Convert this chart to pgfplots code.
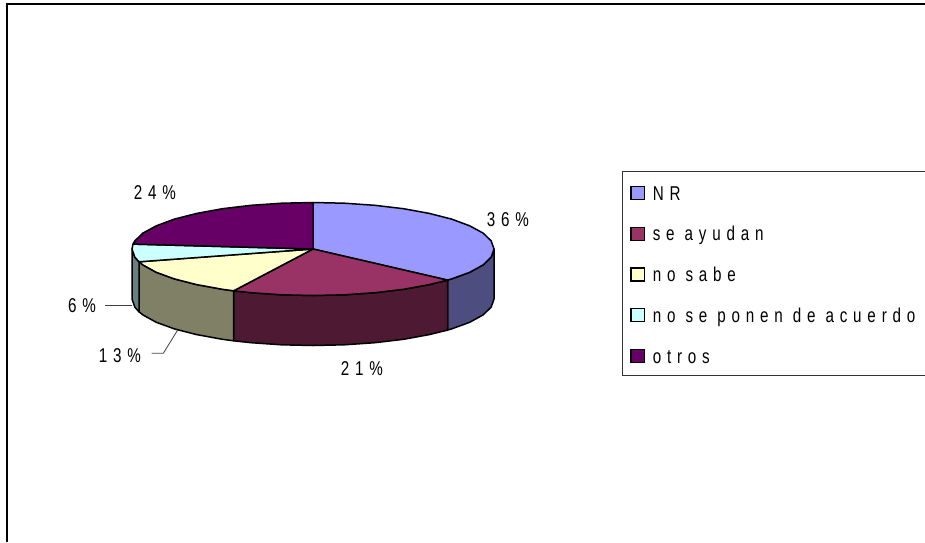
\documentclass[border=0pt]{standalone}
\usepackage{pgfplots}
\pgfplotsset{compat=1.18}
\usepackage{fontspec}
\setmainfont[LetterSpace=29,FakeStretch=0.76]{Liberation Sans}
\definecolor{nrT}{HTML}{9999FF}\definecolor{nrS}{HTML}{4D4D80}
\definecolor{seT}{HTML}{993366}\definecolor{seS}{HTML}{4D1933}
\definecolor{nsT}{HTML}{FFFFCC}\definecolor{nsS}{HTML}{808066}
\definecolor{npT}{HTML}{CCFFFF}\definecolor{npS}{HTML}{668080}
\definecolor{otT}{HTML}{660066}
\begin{document}
\begin{tikzpicture}
\begin{axis}[
  scale only axis, width=925pt, height=542pt,
  xmin=0, xmax=925, ymin=0, ymax=542, y dir=reverse,
  axis lines=none,
  font=\fontsize{20pt}{22pt}\selectfont,
  slice/.style={draw=black, line width=1.5pt, line join=round},
  legend cell align=left,
  legend style={draw=none, fill=none, at={(rel axis cs:0.6815,0.657)}, anchor=north west,
    inner sep=0pt, outer sep=0pt, row sep=26.3pt,
    nodes={inner sep=0pt, text height=14.3pt, text depth=0pt, anchor=west},
    /tikz/every odd column/.append style={column sep=7.5pt},
    font=\fontsize{20pt}{22pt}\selectfont},
  legend image code/.code={\draw[#1, line width=1.4pt] (0pt,-6.5pt) rectangle (13.5pt,6.5pt);},
]
% page extent
\addplot[draw=none, forget plot] coordinates {(0,0)(925,542)};
% chart frame
\addplot[black, line width=1.4pt, forget plot] coordinates {(7,542)(7,4)(925,4)};
% legend frame, open at the right-hand edge
\addplot[black!80, line width=1pt, forget plot] coordinates {(925,171)(622,171)(622,375)(925,375)};
% side faces
\addplot[slice, fill=nrS, forget plot] coordinates {(494,249)(491.2,257.1)(483.1,264.9)(469.7,272.3)(451.6,278.9)(447.5,280.1)(447.5,330.1)(451.6,328.9)(469.7,322.3)(483.1,314.9)(491.2,307.1)(494,299)} --cycle;
\addplot[slice, fill=seS, forget plot] coordinates {(447.5,280.1)(429.3,284.6)(403.5,289.3)(374.9,292.7)(344.4,294.8)(313,295.5)(281.6,294.8)(251.1,292.7)(233.6,290.8)(233.6,340.8)(251.1,342.7)(281.6,344.8)(313,345.5)(344.4,344.8)(374.9,342.7)(403.5,339.3)(429.3,334.6)(447.5,330.1)} --cycle;
\addplot[slice, fill=nsS, forget plot] coordinates {(233.6,290.8)(222.5,289.3)(196.7,284.6)(174.4,278.9)(156.3,272.3)(142.9,264.9)(139,261.8)(139,311.8)(142.9,314.9)(156.3,322.3)(174.4,328.9)(196.7,334.6)(222.5,339.3)(233.6,340.8)} --cycle;
\addplot[slice, fill=npS, forget plot] coordinates {(139,261.8)(134.8,257.1)(132,249)(132,299)(134.8,307.1)(139,311.8)} --cycle;
% top faces
\addplot[slice, fill=nrT, forget plot] coordinates {(313,249)(313,202.5)(344.4,203.2)(374.9,205.3)(403.5,208.7)(429.3,213.4)(451.6,219.1)(469.7,225.8)(483.1,233.1)(491.2,240.9)(494,249)(491.2,257.1)(483.1,264.9)(469.7,272.3)(451.6,278.9)(447.5,280.1)} --cycle;
\addplot[slice, fill=seT, forget plot] coordinates {(313,249)(447.5,280.1)(429.3,284.6)(403.5,289.3)(374.9,292.7)(344.4,294.8)(313,295.5)(281.6,294.8)(251.1,292.7)(233.6,290.8)} --cycle;
\addplot[slice, fill=nsT, forget plot] coordinates {(313,249)(233.6,290.8)(222.5,289.3)(196.7,284.6)(174.4,278.9)(156.3,272.3)(142.9,264.9)(139,261.8)} --cycle;
\addplot[slice, fill=npT, forget plot] coordinates {(313,249)(139,261.8)(134.8,257.1)(132,249)(133,244.1)} --cycle;
\addplot[slice, fill=otT, forget plot] coordinates {(313,249)(133,244.1)(134.8,240.9)(142.9,233.1)(156.3,225.8)(174.4,219.1)(196.7,213.4)(222.5,208.7)(251.1,205.3)(281.6,203.2)(313,202.5)} --cycle;
% leader lines
\addplot[black!75, line width=0.8pt, forget plot] coordinates {(105,305.5)(132,305.5)};
\addplot[black!75, line width=0.8pt, forget plot] coordinates {(151.5,353.3)(163.3,353.3)(177.7,330)};
% data labels
\node at (axis cs:508,220) {36\%};
\node at (axis cs:155,193) {24\%};
\node at (axis cs:362,369) {21\%};
\node at (axis cs:82,306) {6\%};
\node at (axis cs:120,356) {13\%};
% legend
\addlegendimage{fill=nrT, draw=black}\addlegendentry{NR}
\addlegendimage{fill=seT, draw=black}\addlegendentry{se ayudan}
\addlegendimage{fill=nsT, draw=black}\addlegendentry{no sabe}
\addlegendimage{fill=npT, draw=black}\addlegendentry{no se ponen de acuerdo}
\addlegendimage{fill=otT, draw=black}\addlegendentry{otros}
\end{axis}
\end{tikzpicture}
\end{document}
